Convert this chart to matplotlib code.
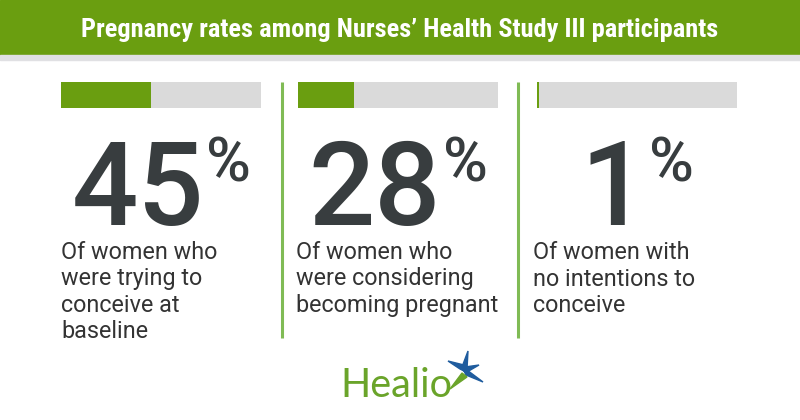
import matplotlib
matplotlib.use("Agg")
import matplotlib.pyplot as plt
from matplotlib import font_manager
from matplotlib.patches import Polygon

# ---- data ----
title = "Pregnancy rates among Nurses\u2019 Health Study III participants"
values = [45, 28, 1]
number_labels = ["45", "28", "1"]
captions = [
    ["Of women who", "were trying to", "conceive at", "baseline"],
    ["Of women who", "were considering", "becoming pregnant"],
    ["Of women with", "no intentions to", "conceive"],
]
brand = "Healio"

# ---- style ----
GREEN = "#6a9e10"
SEP_GREEN = "#80bb55"
GRAY = "#dadada"
DARK = "#383d3f"
TEXT = "#333333"

avail = {f.name for f in font_manager.fontManager.ttflist}
title_family = None
for cand in ["Roboto Condensed", "Liberation Sans Narrow", "DejaVu Sans Condensed", "Roboto"]:
    if cand in avail:
        title_family = cand
        break

fig = plt.figure(figsize=(8, 4.2), dpi=100)
ax = fig.add_axes([0, 0, 1, 1])
ax.set_xlim(0, 800)
ax.set_ylim(420, 0)
ax.axis("off")

# header
ax.add_patch(plt.Rectangle((0, 0), 800, 55, color=GREEN, zorder=1))
ax.add_patch(plt.Rectangle((0, 55), 800, 5, color="#e0e0e3", zorder=1))
tsize = 19 if title_family != "Roboto" else 14.5
ax.text(400, 30, title, ha="center", va="center", color="white",
        fontsize=tsize, fontweight="bold", family=[title_family, "DejaVu Sans"], zorder=3)

bar_left = [61, 298, 537]
bar_w = 200
bar_y, bar_h = 82, 26
text_x = [61, 296, 533]

# bars from data
ax.barh([bar_y + bar_h / 2] * 3, [bar_w] * 3, left=bar_left, height=bar_h,
        color=GRAY, zorder=2)
ax.barh([bar_y + bar_h / 2] * 3, [v / 100 * bar_w for v in values], left=bar_left,
        height=bar_h, color=GREEN, zorder=3)

# separators
for sx in [282, 518]:
    ax.plot([sx, sx], [82, 338], color=SEP_GREEN, lw=2.2, solid_capstyle="butt", zorder=2)

fig.canvas.draw()
renderer = fig.canvas.get_renderer()

# big numbers with % superscript, centered on bar
for i, lab in enumerate(number_labels):
    cx = bar_left[i] + bar_w / 2
    t1 = ax.text(0, 225, lab, ha="left", va="baseline", fontsize=84,
                 fontweight="medium", family=["Roboto", "DejaVu Sans"], color=DARK, zorder=3)
    t2 = ax.text(0, 182, "%", ha="left", va="baseline", fontsize=44,
                 fontweight="medium", family=["Roboto", "DejaVu Sans"], color=DARK, zorder=3)
    w1 = t1.get_window_extent(renderer).width
    w2 = t2.get_window_extent(renderer).width
    gap = 2
    total = w1 + gap + w2
    x0 = cx - total / 2
    t1.set_x(x0)
    t2.set_x(x0 + w1 + gap)

# captions
for i, lines in enumerate(captions):
    for j, line in enumerate(lines):
        ax.text(text_x[i], 259 + j * 26.5, line, ha="left", va="baseline",
                fontsize=16.8, family=["Roboto", "DejaVu Sans"], color=TEXT, zorder=3)

# Healio logo
ax.text(340, 397, brand, ha="left", va="baseline", fontsize=28.5,
        family=["Lato", "DejaVu Sans"], color="#6aa42a", zorder=3)
cx, cy = 464, 371
BLUE = "#1f5c9e"
arms = [((448, 361), (460, 369), (464, 365)),
        ((468, 351), (462, 367), (467, 369)),
        ((483, 382), (467, 370), (466, 375)),
        ((479, 365), (465, 367), (467, 372))]
for tip, a, b in arms:
    ax.add_patch(Polygon([tip, a, (cx, cy), b], closed=True, color=BLUE, zorder=3))
ax.add_patch(Polygon([(450, 389), (462, 373), (467, 377)], closed=True, color="#6aa42a", zorder=3))

fig.savefig("out.png", dpi=100)
